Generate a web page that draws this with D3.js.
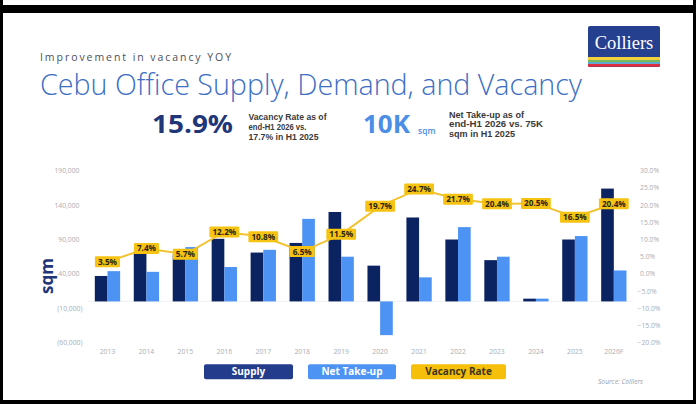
<!DOCTYPE html>
<html><head><meta charset="utf-8">
<script src="https://cdn.jsdelivr.net/npm/d3@7"></script>
<style>
html,body{margin:0;padding:0;background:#000;}
svg{display:block;}
text{font-family:"Open Sans","Noto Sans",sans-serif;}
</style></head>
<body><svg id="c" width="696" height="404"></svg>
<script>
const categories = ["2013","2014","2015","2016","2017","2018","2019","2020","2021","2022","2023","2024","2025","2026F"];
const supply = [37000,72000,68000,91000,71000,85000,130000,52000,122000,90000,60000,4000,90000,164000];
const netTakeUp = [44000,43000,79000,50000,75000,120000,65000,-49000,35000,108000,65000,4000,95000,45000];
const vacancy = [3.5,7.4,5.7,12.2,10.8,6.5,11.5,19.7,24.7,21.7,20.4,20.5,16.5,20.4];
const leftTicks = [190000,140000,90000,40000,-10000,-60000];
const rightTicks = [30,25,20,15,10,5,0,-5,-10,-15,-20];

const svg = d3.select("#c");
// frame
svg.append("rect").attr("x",0).attr("y",0).attr("width",696).attr("height",404).attr("fill","#000");
svg.append("rect").attr("x",3).attr("y",0).attr("width",690).attr("height",5).attr("fill","#fff");
svg.append("rect").attr("x",3).attr("y",13).attr("width",690).attr("height",387).attr("fill","#fff");

// logo
const logo = svg.append("g");
logo.append("rect").attr("x",588).attr("y",26).attr("width",72).attr("height",41).attr("rx",2).attr("fill","#25408f");
[["#f1d23c",57,3],["#79bb58",60,2],["#62a7cf",62,2],["#df2f3c",64,2.7]].forEach(s=>{
  logo.append("rect").attr("x",588).attr("y",s[1]).attr("width",72).attr("height",s[2]).attr("fill",s[0]);
});
logo.append("text").attr("x",624).attr("y",48.5).attr("text-anchor","middle")
  .style("font-family","'Liberation Serif','DejaVu Serif',serif")
  .attr("font-size",18.5).attr("fill","#fff").text("Colliers");

// header texts
svg.append("text").attr("x",40).attr("y",61).attr("font-size",10.5).attr("fill","#4a5060")
  .attr("textLength",191).attr("lengthAdjust","spacing").text("Improvement in vacancy YOY");
svg.append("text").attr("x",40).attr("y",95).attr("font-size",29).attr("font-weight",300).attr("fill","#3d6fc4")
  .attr("textLength",542).attr("lengthAdjust","spacingAndGlyphs").text("Cebu Office Supply, Demand, and Vacancy");

svg.append("text").attr("x",152).attr("y",133.3).attr("font-size",25.5).attr("font-weight",700).attr("fill","#1f3679")
  .attr("textLength",81).attr("lengthAdjust","spacingAndGlyphs").text("15.9%");
function para(lines, widths, px, py){
  lines.forEach((s,i)=>svg.append("text").attr("x",px).attr("y",py+i*9.8)
    .style("font-family","'Liberation Sans Narrow','Liberation Sans',Arial,sans-serif")
    .attr("font-size",8.7).attr("font-weight",700).attr("fill","#3a3a3a")
    .attr("textLength",widths[i]).attr("lengthAdjust","spacingAndGlyphs").text(s));
}
para(["Vacancy Rate as of","end-H1 2026 vs.","17.7% in H1 2025"], [78,58,70], 248.5, 120);

svg.append("text").attr("x",363).attr("y",133.3).attr("font-size",25.5).attr("font-weight",700).attr("fill","#4a8ee6")
  .attr("textLength",47).attr("lengthAdjust","spacingAndGlyphs").text("10K");
svg.append("text").attr("x",418).attr("y",134).attr("font-size",8.5).attr("font-weight",600).attr("fill","#4a8ee6").text("sqm");
para(["Net Take-up as of","end-H1 2026 vs. 75K","sqm in H1 2025"], [75,94,66], 449, 117.5);

// scales
const plotTop = 170.7, plotBottom = 342.7;
const x = d3.scaleBand().domain(categories).range([88, 633.3]).paddingInner(0.35).paddingOuter(0.175);
const xs = d3.scaleBand().domain(["supply","ntu"]).range([0, x.bandwidth()]);
const yL = d3.scaleLinear().domain([-60000,190000]).range([plotBottom, plotTop]);
const yR = d3.scaleLinear().domain([-20,30]).range([plotBottom, plotTop]);

// axis labels
const fmtL = v => v < 0 ? "(" + d3.format(",")(-v) + ")" : d3.format(",")(v);
leftTicks.forEach(v=>{
  svg.append("text").attr("x", v<0 ? 82.5 : 79.5).attr("y", yL(v)+2.5).attr("text-anchor","end")
    .attr("font-size",6.8).attr("fill","#a9adb5").text(fmtL(v));
});
rightTicks.forEach(v=>{
  svg.append("text").attr("x", v<0 ? 637.5 : 640).attr("y", yR(v)+2.5)
    .attr("font-size",6.8).attr("fill","#a9adb5").text(d3.format(".1f")(v)+"%");
});
categories.forEach(c=>{
  svg.append("text").attr("x", x(c)+x.bandwidth()/2).attr("y",354).attr("text-anchor","middle")
    .attr("font-size",6.8).attr("fill","#a9adb5").text(c);
});

// zero line
svg.append("line").attr("x1",88).attr("x2",633).attr("y1",yL(0)).attr("y2",yL(0)).attr("stroke","#eceef2").attr("stroke-width",0.8);

// bars
const bars = svg.append("g");
categories.forEach((c,i)=>{
  [["supply",supply[i],"#0b2461"],["ntu",netTakeUp[i],"#4d93f4"]].forEach(([k,v,col])=>{
    bars.append("rect").attr("x", x(c)+xs(k)).attr("width", xs.bandwidth())
      .attr("y", Math.min(yL(v), yL(0))).attr("height", Math.abs(yL(v)-yL(0))).attr("fill", col);
  });
});

// axis title
svg.append("text").attr("transform","translate(53,276) rotate(-90)").attr("text-anchor","middle")
  .attr("font-size",17).attr("font-weight",700).attr("fill","#1f3679").text("sqm");

// vacancy line
const line = d3.line().x((d,i)=>x(categories[i])+x.bandwidth()/2).y(d=>yR(d));
svg.append("path").attr("d", line(vacancy)).attr("fill","none").attr("stroke","#f2c230").attr("stroke-width",2);

const lab = svg.append("g");
vacancy.forEach((v,i)=>{
  const cx = x(categories[i])+x.bandwidth()/2, cy = yR(v);
  const t = v.toFixed(1)+"%";
  const g = lab.append("g");
  const tx = g.append("text").attr("x",cx).attr("y",cy+3).attr("text-anchor","middle")
    .attr("font-size",8.2).attr("font-weight",700).attr("fill","#2a2410").text(t);
  const w = tx.node().getComputedTextLength();
  g.insert("rect","text").attr("x",cx-w/2-3).attr("y",cy-5.5).attr("width",w+6).attr("height",11).attr("rx",1)
    .attr("fill","#f6c313");
});

// legend
const legend = [["Supply","#233d8c","#ffffff",204,89],["Net Take-up","#4d93f4","#ffffff",308,88],["Vacancy Rate","#f6bf0a","#3b3520",411,95]];
legend.forEach(([t,bg,fg,lx,lw])=>{
  svg.append("rect").attr("x",lx).attr("y",364.3).attr("width",lw).attr("height",15).attr("rx",2).attr("fill",bg);
  svg.append("text").attr("x",lx+lw/2).attr("y",375.3).attr("text-anchor","middle").attr("font-size",10)
    .attr("font-weight",700).attr("fill",fg).text(t);
});
svg.append("text").attr("x",598).attr("y",384).attr("font-size",7).attr("font-style","italic").attr("fill","#9aa0a8")
  .attr("textLength",45).attr("lengthAdjust","spacingAndGlyphs").text("Source: Colliers");
</script></body></html>
